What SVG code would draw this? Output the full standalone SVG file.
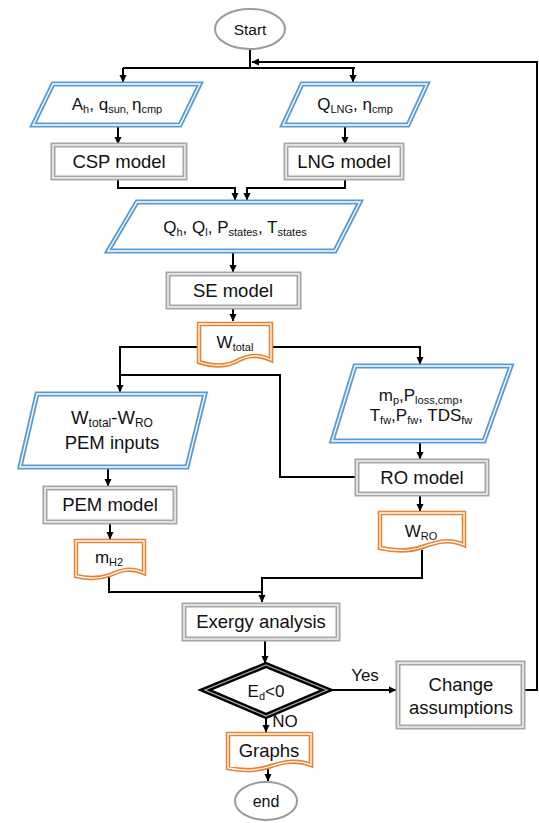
<svg xmlns="http://www.w3.org/2000/svg" width="539" height="823" viewBox="0 0 539 823">
<defs>
<marker id="ar" markerWidth="8" markerHeight="8" refX="7" refY="4" orient="auto" markerUnits="userSpaceOnUse"><path d="M0,0.5 L7.5,4 L0,7.5 Z" fill="#000"/></marker>
<style>
text{font-family:"Liberation Sans",Arial,sans-serif;fill:#111;text-anchor:middle}
.t{font-size:18.5px}
.p{font-size:17px}
.blue{fill:#fff;stroke:#5b9bd5;stroke-width:5}
.gray{fill:#fff;stroke:#a6a6a6;stroke-width:5}
.org{fill:#fff;stroke:#e8822e;stroke-width:4.5}
.inw{fill:none;stroke:#fff;stroke-width:1.3}
.ell{fill:#fff;stroke:#9a9a9a;stroke-width:2}
.c{fill:none;stroke:#000;stroke-width:2}
.ca{fill:none;stroke:#000;stroke-width:2;marker-end:url(#ar)}
</style>
</defs>
<rect width="539" height="823" fill="#fff"/>
<g id="connectors">
<path class="c" d="M250,47 V68"/>
<path class="c" d="M123,68 H355"/>
<path class="ca" d="M123,68 V82"/>
<path class="ca" d="M353,68 V82"/>
<path class="ca" d="M523,690 H537 V62 H252"/>
<path class="ca" d="M118,125 V144"/>
<path class="ca" d="M345,125 V144"/>
<path class="ca" d="M118,178 V188 H235 V200"/>
<path class="ca" d="M345,178 V188 H247 V200"/>
<path class="ca" d="M233,252 V272"/>
<path class="ca" d="M233,307 V321"/>
<path class="ca" d="M198,347 H120 V392"/>
<path class="ca" d="M272,347 H420 V364"/>
<path class="c" d="M355,477 H280 V375 H120"/>
<path class="ca" d="M420,442 V459"/>
<path class="ca" d="M420,494 V511"/>
<path class="ca" d="M422,550 V578 H262 V602"/>
<path class="c" d="M109,576 V592 H262"/>
<path class="ca" d="M108,468 V486"/>
<path class="ca" d="M110,522 V539"/>
<path class="ca" d="M265,640 V663"/>
<path class="ca" d="M327,690 H396"/>
<path class="ca" d="M266,717 V732"/>
<path class="ca" d="M268,769 V781"/>
</g>
<g id="start"><ellipse class="ell" cx="250" cy="29" rx="35" ry="20"/><text x="250" y="35" style="font-size:15.5px">Start</text></g>
<g id="in-csp"><polygon class="blue" points="53,84 200,84 180,125 33,125"/><polygon class="inw" points="53,84 200,84 180,125 33,125"/>
<text class="p" x="117" y="110">A<tspan font-size="11" dy="3">h</tspan><tspan dy="-3">, q</tspan><tspan font-size="11" dy="3">sun, </tspan><tspan dy="-3">η</tspan><tspan font-size="11" dy="3">cmp</tspan></text></g>
<g id="in-lng"><polygon class="blue" points="302,84 427,84 408,125 283,125"/><polygon class="inw" points="302,84 427,84 408,125 283,125"/>
<text class="p" x="355" y="110">Q<tspan font-size="11" dy="3">LNG</tspan><tspan dy="-3">, η</tspan><tspan font-size="11" dy="3">cmp</tspan></text></g>
<g id="csp"><rect class="gray" x="53" y="145" width="132" height="33"/><rect class="inw" x="53" y="145" width="132" height="33"/><text class="t" x="119" y="168">CSP model</text></g>
<g id="lng"><rect class="gray" x="286" y="145" width="116" height="33"/><rect class="inw" x="286" y="145" width="116" height="33"/><text class="t" x="344" y="168">LNG model</text></g>
<g id="in-se"><polygon class="blue" points="137,202 360,202 335,251 108,251"/><polygon class="inw" points="137,202 360,202 335,251 108,251"/>
<text class="p" x="235" y="233">Q<tspan font-size="11" dy="3">h</tspan><tspan dy="-3">, Q</tspan><tspan font-size="11" dy="3">l</tspan><tspan dy="-3">, P</tspan><tspan font-size="11" dy="3">states</tspan><tspan dy="-3">, T</tspan><tspan font-size="11" dy="3">states</tspan></text></g>
<g id="se"><rect class="gray" x="168" y="274" width="131" height="33"/><rect class="inw" x="168" y="274" width="131" height="33"/><text class="t" x="233" y="297">SE model</text></g>
<g id="wtotal"><path class="org" d="M199,324 H271 V360 C256,353 246,356 235,362 C224,367 211,366 199,362 Z"/><path class="inw" d="M199,324 H271 V360 C256,353 246,356 235,362 C224,367 211,366 199,362 Z"/>
<text class="p" x="235" y="348">W<tspan font-size="11" dy="3">total</tspan></text></g>
<g id="in-pem"><polygon class="blue" points="37,394 205,394 187,467 20,467"/><polygon class="inw" points="37,394 205,394 187,467 20,467"/>
<text class="t" x="112" y="424">W<tspan font-size="12" dy="3">total</tspan><tspan dy="-3">-W</tspan><tspan font-size="12" dy="3">RO</tspan></text>
<text class="t" x="112" y="449">PEM inputs</text></g>
<g id="in-ro"><polygon class="blue" points="355,366 511,366 484,441 332,441"/><polygon class="inw" points="355,366 511,366 484,441 332,441"/>
<text class="p" x="421" y="401">m<tspan font-size="11" dy="3">p</tspan><tspan dy="-3">,P</tspan><tspan font-size="11" dy="3">loss,cmp</tspan><tspan dy="-3">,</tspan></text>
<text class="p" x="421" y="421">T<tspan font-size="11" dy="3">fw</tspan><tspan dy="-3">,P</tspan><tspan font-size="11" dy="3">fw</tspan><tspan dy="-3">, TDS</tspan><tspan font-size="11" dy="3">fw</tspan></text></g>
<g id="ro"><rect class="gray" x="357" y="461" width="130" height="33"/><rect class="inw" x="357" y="461" width="130" height="33"/><text class="t" x="422" y="484">RO model</text></g>
<g id="wro"><path class="org" d="M380,513 H464 V545 C449,538 437,542 422,547 C408,552 394,551 380,548 Z"/><path class="inw" d="M380,513 H464 V545 C449,538 437,542 422,547 C408,552 394,551 380,548 Z"/>
<text class="p" x="421" y="537">W<tspan font-size="11" dy="3">RO</tspan></text></g>
<g id="pem"><rect class="gray" x="45" y="488" width="130" height="34"/><rect class="inw" x="45" y="488" width="130" height="34"/><text class="t" x="110" y="511">PEM model</text></g>
<g id="mh2"><path class="org" d="M76,541 H144 V573 C131,567 121,570 110,575 C99,579 88,579 76,576 Z"/><path class="inw" d="M76,541 H144 V573 C131,567 121,570 110,575 C99,579 88,579 76,576 Z"/>
<text class="p" x="109" y="563">m<tspan font-size="11" dy="3">H2</tspan></text></g>
<g id="exergy"><rect class="gray" x="184" y="605" width="154" height="34"/><rect class="inw" x="184" y="605" width="154" height="34"/><text class="t" x="261" y="628">Exergy analysis</text></g>
<g id="decision"><polygon points="266,665 327,690 266,716 205,690" fill="#fff" stroke="#000" stroke-width="6"/><polygon points="266,665 327,690 266,716 205,690" fill="none" stroke="#aaa" stroke-width="1.3"/>
<text class="p" x="266" y="697">E<tspan font-size="11" dy="3">d</tspan><tspan dy="-3">&lt;0</tspan></text></g>
<text class="p" x="365" y="681">Yes</text>
<text class="p" x="285" y="727">NO</text>
<g id="change"><rect class="gray" x="398" y="663" width="125" height="64"/><rect class="inw" x="398" y="663" width="125" height="64"/><text class="t" x="461" y="691">Change</text><text class="t" x="461" y="714">assumptions</text></g>
<g id="graphs"><path class="org" d="M228,734 H311 V765 C296,759 283,762 268,767 C255,771 242,771 228,768 Z"/><path class="inw" d="M228,734 H311 V765 C296,759 283,762 268,767 C255,771 242,771 228,768 Z"/>
<text class="t" x="269" y="757">Graphs</text></g>
<g id="end"><ellipse class="ell" cx="266" cy="801" rx="31" ry="19"/><text x="266" y="807" style="font-size:16px">end</text></g>
</svg>
